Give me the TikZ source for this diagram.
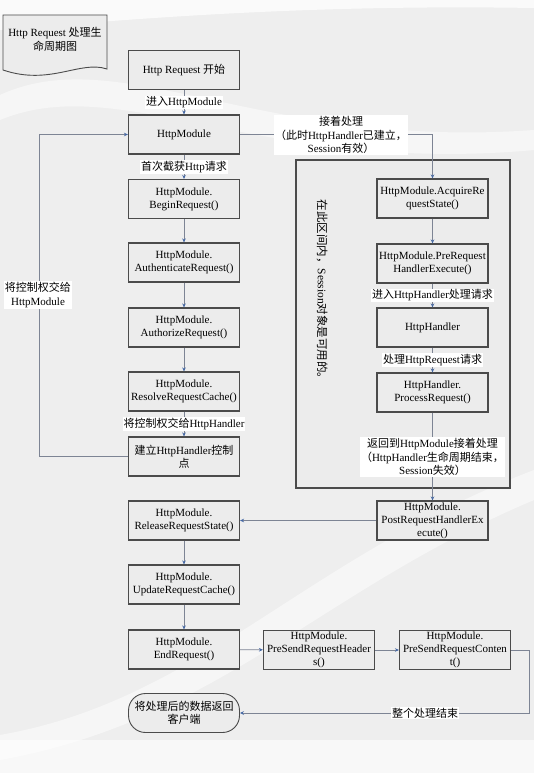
\documentclass[tikz,border=0pt]{standalone}
\usepackage{fontspec}
\setmainfont{Liberation Serif}
\newfontfamily\zhfont{Noto Sans CJK SC}
\newcommand\zh[1]{{\zhfont #1}}
\usetikzlibrary{arrows.meta,positioning,calc}
\definecolor{bg}{RGB}{238,238,238}
\definecolor{boxfill}{RGB}{236,236,236}
\definecolor{boxline}{RGB}{75,75,75}
\definecolor{lnk}{RGB}{125,132,148}
\definecolor{tip}{RGB}{70,105,165}
\tikzset{
  box/.style={draw=boxline, fill=boxfill, line width=1.2pt, minimum width=111pt, minimum height=39pt, align=center, inner sep=1pt, font=\fontsize{11}{13}\selectfont},
  arr/.style={draw=lnk, line width=0.7pt, -{Stealth[length=4pt,width=3.6pt,color=tip]}},
  lbl/.style={fill=white, inner sep=1pt, align=center, font=\fontsize{11}{13.5}\selectfont},
}
\begin{document}
\begin{tikzpicture}[x=1pt,y=-1pt]
\useasboundingbox (0,0) rectangle (534,773);
% background
\fill[bg] (0,0) rectangle (534,773);
\fill[white,opacity=0.75] (0,0) -- (534,0) -- (534,8) .. controls (300,4) and (120,20) .. (0,30) -- cycle;
\fill[white,opacity=0.5] (0,95) .. controls (120,40) and (260,150) .. (534,130) -- (534,150) .. controls (260,175) and (120,70) .. (0,120) -- cycle;
\fill[white,opacity=0.6] (0,740) -- (534,740) -- (534,773) -- (0,773) -- cycle;
\fill[white,opacity=0.5] (0,735) .. controls (200,700) and (300,560) .. (534,470) -- (534,500) .. controls (320,590) and (220,720) .. (0,760) -- cycle;

% title document shape
\draw[boxline, fill=boxfill, line width=0.9pt] (3,15) -- (107,15) -- (107,69) .. controls (80,60) and (50,86) .. (3,70) -- cycle;
\node[align=center, font=\fontsize{11}{14}\selectfont] (title) at (55,39) {Http Request \zh{处理生}\\\zh{命周期图}};

% container
\node[draw=boxline, fill=boxfill, line width=1.2pt, minimum width=214pt, minimum height=328pt, inner sep=0pt] (region) at (403,324) {};
\node[rotate=-90, font=\fontsize{11.5}{13}\selectfont] (rtext) at (322,292) {\zh{在此区间内，}Session\zh{对象是可用的。}};

% left column
\node[box] (start) at (184,70) {Http Request \zh{开始}};
\node[box] (hm) at (184,134.5) {HttpModule};
\node[box] (begin) at (184,199) {HttpModule.\\BeginRequest()};
\node[box] (auth) at (184,262.5) {HttpModule.\\AuthenticateRequest()};
\node[box] (authz) at (184,327.5) {HttpModule.\\AuthorizeRequest()};
\node[box] (resolve) at (184,391.5) {HttpModule.\\ResolveRequestCache()};
\node[box] (build) at (184,456.5) {\zh{建立}HttpHandler\zh{控制}\\\zh{点}};
\node[box] (release) at (184,520.5) {HttpModule.\\ReleaseRequestState()};
\node[box] (update) at (184,584.5) {HttpModule.\\UpdateRequestCache()};
\node[box] (endreq) at (184,649.5) {HttpModule.\\EndRequest()};
\node[box, rounded corners=17pt, line width=0.9pt] (term) at (184,713) {\zh{将处理后的数据返回}\\\zh{客户端}};

% right column
\node[box] (acquire) at (432.5,198.5) {HttpModule.AcquireRe\\questState()};
\node[box] (prereq) at (432.5,263.5) {HttpModule.PreRequest\\HandlerExecute()};
\node[box] (handler) at (432.5,327.5) {HttpHandler};
\node[box] (process) at (432.5,392.5) {HttpHandler.\\ProcessRequest()};
\node[box] (post) at (432.5,520.5) {HttpModule.\\PostRequestHandlerEx\\ecute()};

% bottom row
\node[box] (headers) at (319,650) {HttpModule.\\PreSendRequestHeader\\s()};
\node[box] (content) at (455,650) {HttpModule.\\PreSendRequestConten\\t()};

% connectors
\draw[arr] (start) -- node[lbl] {\zh{进入}HttpModule} (hm);
\draw[arr] (hm) -- node[lbl] {\zh{首次截获}Http\zh{请求}} (begin);
\draw[arr] (begin) -- (auth);
\draw[arr] (auth) -- (authz);
\draw[arr] (authz) -- (resolve);
\draw[arr] (resolve) -- node[lbl] {\zh{将控制权交给}HttpHandler} (build);
\coordinate (lc) at (39,456.5);
\draw[arr] (build.west) -- (lc) |- (hm.west);
\node[lbl] (lctext) at (38,295) {\zh{将控制权交给}\\HttpModule};
\draw[arr] (hm.east) -| (acquire.north);
\node[lbl] (hmtext) at (341,135) {\zh{接着处理}\\\zh{（此时}HttpHandler\zh{已建立，}\\Session\zh{有效）}};
\draw[arr] (acquire) -- (prereq);
\draw[arr] (prereq) -- node[lbl] {\zh{进入}HttpHandler\zh{处理请求}} (handler);
\draw[arr] (handler) -- node[lbl] {\zh{处理}HttpRequest\zh{请求}} (process);
\draw[arr] (process) -- (post);
\node[lbl] (rettext) at (432.5,457) {\zh{返回到}HttpModule\zh{接着处理}\\\zh{（}HttpHandler\zh{生命周期结束，}\\Session\zh{失效）}};
\draw[arr] (post) -- (release);
\draw[arr] (release) -- (update);
\draw[arr] (update) -- (endreq);
\draw[arr] (endreq) -- (headers);
\draw[arr] (headers) -- (content);
\coordinate (rc) at (529,650);
\draw[arr] (content.east) -- (rc) |- (term.east);
\node[lbl] (endtext) at (425,713) {\zh{整个处理结束}};
\end{tikzpicture}
\end{document}
